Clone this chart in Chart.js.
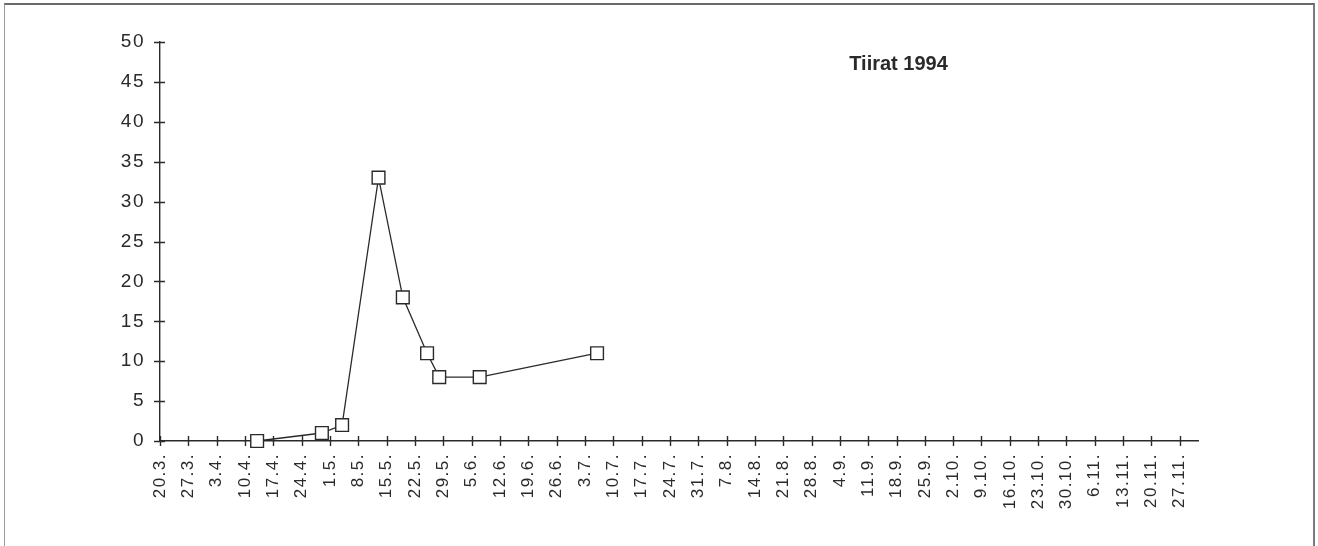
<!DOCTYPE html>
<html>
<head>
<meta charset="utf-8">
<title>Tiirat 1994</title>
<script src="https://cdn.jsdelivr.net/npm/chart.js@4/dist/chart.umd.min.js"></script>
<style>
  html, body { margin: 0; padding: 0; background: #ffffff; }
  #wrap { position: relative; width: 1318px; height: 546px; overflow: hidden; }
  #chart { position: absolute; left: 0; top: 0; }
  #frame {
    position: absolute; left: 4px; top: 3px; width: 1308px; height: 560px;
    border-top: 2px solid #6a6a6a; border-left: 1px solid #9a9a9a; border-right: 2px solid #7a7a7a;
    pointer-events: none;
  }
</style>
</head>
<body>
<div id="wrap">
  <canvas id="chart" width="1318" height="546"></canvas>
  <div id="frame"></div>
</div>
<script>
// Series name shown inside the plot
const seriesName = 'Tiirat 1994';

// Sampling dates (day.month.) and counts
const sampleDates = ['13.4.', '29.4.', '4.5.', '13.5.', '19.5.', '25.5.', '28.5.', '7.6.', '6.7.'];
const counts = [0, 1, 2, 33, 18, 11, 8, 8, 11];

// Weekly x-axis tick labels
const tickLabels = ['20.3.', '27.3.', '3.4.', '10.4.', '17.4.', '24.4.', '1.5.', '8.5.', '15.5.',
  '22.5.', '29.5.', '5.6.', '12.6.', '19.6.', '26.6.', '3.7.', '10.7.', '17.7.', '24.7.', '31.7.',
  '7.8.', '14.8.', '21.8.', '28.8.', '4.9.', '11.9.', '18.9.', '25.9.', '2.10.', '9.10.', '16.10.',
  '23.10.', '30.10.', '6.11.', '13.11.', '20.11.', '27.11.'];

// Y-axis range
const yMin = 0, yMax = 50, yStep = 5;

const YEAR = 1994;
const origin = Date.UTC(YEAR, 2, 20);
function dayOf(label) {
  const [d, m] = label.split('.').map(Number);
  return Math.round((Date.UTC(YEAR, m - 1, d) - origin) / 86400000);
}
const tickDays = tickLabels.map(dayOf);
const points = sampleDates.map((s, i) => ({ x: dayOf(s), y: counts[i] }));

const ink = '#2a2a2a';

// Tick marks that cross the axis lines
const crossTicks = {
  id: 'crossTicks',
  beforeDatasetsDraw(chart) {
    const { ctx } = chart;
    const xs = chart.scales.x, ys = chart.scales.y;
    ctx.save();
    ctx.strokeStyle = ink;
    ctx.lineWidth = 1.4;
    ctx.beginPath();
    xs.ticks.forEach(t => {
      const px = Math.round(xs.getPixelForValue(t.value)) + 0.5;
      ctx.moveTo(px, ys.bottom - 5);
      ctx.lineTo(px, ys.bottom + 5);
    });
    ys.ticks.forEach(t => {
      const py = Math.round(ys.getPixelForValue(t.value)) + 0.5;
      ctx.moveTo(xs.left - 6, py);
      ctx.lineTo(xs.left + 5, py);
    });
    ctx.stroke();
    ctx.restore();
  }
};

// Slightly spread tick lettering, and the series name inside the plot
const lettering = {
  id: 'lettering',
  beforeDraw(chart) {
    chart.ctx.letterSpacing = '1.5px';
  },
  afterDraw(chart) {
    const { ctx, chartArea } = chart;
    ctx.save();
    ctx.letterSpacing = '0px';
    ctx.font = 'bold 20px "Liberation Sans", Arial, sans-serif';
    ctx.fillStyle = ink;
    ctx.textBaseline = 'alphabetic';
    ctx.textAlign = 'left';
    const w = chartArea.right - chartArea.left;
    ctx.fillText(seriesName, chartArea.left + w * 0.664, chartArea.top + 28);
    ctx.restore();
  }
};

new Chart(document.getElementById('chart'), {
  type: 'line',
  data: {
    datasets: [{
      label: seriesName,
      data: points,
      borderColor: ink,
      borderWidth: 1.3,
      tension: 0,
      pointStyle: 'rect',
      pointRadius: 9,
      pointHoverRadius: 9,
      pointBackgroundColor: '#ffffff',
      pointBorderColor: ink,
      pointBorderWidth: 1.4,
      clip: false
    }]
  },
  options: {
    responsive: false,
    animation: false,
    events: [],
    layout: { padding: { left: 0, top: 42, right: 120, bottom: 0 } },
    plugins: { legend: { display: false }, tooltip: { enabled: false }, title: { display: false } },
    scales: {
      x: {
        type: 'linear',
        min: 0,
        max: 256.5,
        afterBuildTicks(scale) { scale.ticks = tickDays.map(v => ({ value: v })); },
        afterFit(scale) { scale.height = 105; },
        grid: { display: false, drawTicks: false },
        border: { display: true, color: ink, width: 1.4 },
        ticks: {
          autoSkip: false,
          minRotation: 90,
          maxRotation: 90,
          padding: 12,
          color: ink,
          font: { family: '"Liberation Sans", Arial, sans-serif', size: 17 },
          callback: (value, index) => tickLabels[index]
        }
      },
      y: {
        type: 'linear',
        min: yMin,
        max: yMax,
        afterFit(scale) { scale.width = 160; },
        grid: { display: false, drawTicks: false },
        border: { display: true, color: ink, width: 1.4 },
        ticks: {
          stepSize: yStep,
          padding: 15,
          color: ink,
          font: { family: '"Liberation Sans", Arial, sans-serif', size: 19 }
        }
      }
    }
  },
  plugins: [crossTicks, lettering]
});
</script>
</body>
</html>
